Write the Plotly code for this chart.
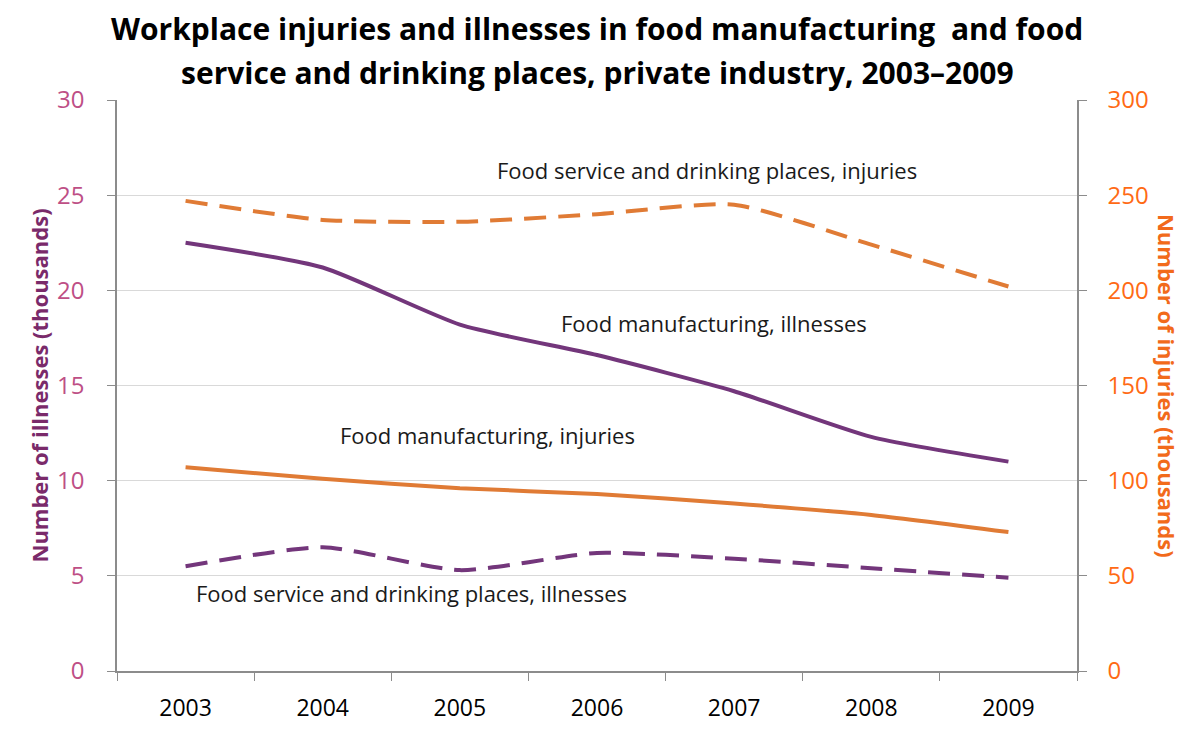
import plotly.graph_objects as go

years = ["2003", "2004", "2005", "2006", "2007", "2008", "2009"]

# Illnesses (thousands), left axis
mfg_illnesses = [22.5, 21.2, 18.2, 16.6, 14.7, 12.3, 11.0]
svc_illnesses = [5.5, 6.5, 5.3, 6.2, 5.9, 5.4, 4.9]

# Injuries (thousands), right axis
svc_injuries = [247, 237, 236, 240, 245, 224, 202]
mfg_injuries = [107, 101, 96, 93, 88, 82, 73]

left_ticks = [0, 5, 10, 15, 20, 25, 30]
right_ticks = [0, 50, 100, 150, 200, 250, 300]

title_lines = [
    "Workplace injuries and illnesses in food manufacturing  and food",
    "service and drinking places, private industry, 2003\u20132009",
]

PURPLE = "#73367B"
ORANGE = "#E07B35"
FONT = "'Open Sans', Lato, sans-serif"

fig = go.Figure()

fig.add_trace(go.Scatter(x=years, y=mfg_illnesses, mode="lines", yaxis="y",
                         line=dict(color=PURPLE, width=4, shape="spline", smoothing=0.6),
                         name="Food manufacturing, illnesses"))
fig.add_trace(go.Scatter(x=years, y=svc_illnesses, mode="lines", yaxis="y",
                         line=dict(color=PURPLE, width=4, dash="22px,12px", shape="spline", smoothing=0.6),
                         name="Food service and drinking places, illnesses"))
fig.add_trace(go.Scatter(x=years, y=svc_injuries, mode="lines", yaxis="y2",
                         line=dict(color=ORANGE, width=4, dash="22px,12px", shape="spline", smoothing=0.6),
                         name="Food service and drinking places, injuries"))
fig.add_trace(go.Scatter(x=years, y=mfg_injuries, mode="lines", yaxis="y2",
                         line=dict(color=ORANGE, width=4, shape="spline", smoothing=0.6),
                         name="Food manufacturing, injuries"))

labels = [
    ("Food service and drinking places, injuries", 3.8, 26.3),
    ("Food manufacturing, illnesses", 3.85, 18.3),
    ("Food manufacturing, injuries", 2.2, 12.4),
    ("Food service and drinking places, illnesses", 1.65, 4.1),
]
annotations = [
    dict(text=t, x=x, y=y, xref="x", yref="y", showarrow=False,
         font=dict(family=FONT, size=22, color="#1a1a1a"))
    for t, x, y in labels
]

# Two-line chart title
for line, ypos in zip(title_lines, [1.126, 1.049]):
    annotations.append(dict(text=line, xref="paper", yref="paper", x=0.5, y=ypos,
                            xanchor="center", yanchor="middle", showarrow=False,
                            font=dict(family=FONT, size=30, color="black", weight="bold")))

annotations.append(dict(text="Number of illnesses (thousands)", xref="paper", yref="paper",
                        x=-0.1, y=0.5, textangle=-90, showarrow=False,
                        font=dict(family=FONT, size=22, color="#7A2A6A", weight="bold")))
annotations.append(dict(text="Number of injuries (thousands)", xref="paper", yref="paper",
                        x=1.112, y=0.5, textangle=90, showarrow=False,
                        font=dict(family=FONT, size=22, color="#F26A1B", weight="bold")))

fig.update_layout(
    width=1200, height=730,
    margin=dict(l=117, r=123, t=100, b=59, autoexpand=False),
    paper_bgcolor="white", plot_bgcolor="white",
    showlegend=False,
    xaxis=dict(type="category", range=[-0.5, 6.5], showgrid=False, showline=True,
               linecolor="#8c8c8c", linewidth=1.5, ticks="outside", tickson="boundaries",
               ticklen=8, tickcolor="#8c8c8c", tickfont=dict(family=FONT, size=23, color="black"),
               ticklabelstandoff=16, zeroline=False, automargin=False),
    yaxis=dict(range=[0, 30], tickvals=left_ticks, showgrid=True, gridcolor="#d9d9d9",
               gridwidth=1, showline=True, linecolor="#8c8c8c", linewidth=1.5,
               ticks="outside", ticklen=8, tickcolor="#8c8c8c",
               tickfont=dict(family=FONT, size=24, color="#BE4F86"), ticklabelstandoff=18,
               zeroline=False, automargin=False),
    yaxis2=dict(range=[0, 300], tickvals=right_ticks, overlaying="y", side="right",
                showgrid=False, showline=True, linecolor="#8c8c8c", linewidth=1.5,
                ticks="outside", ticklen=8, tickcolor="#8c8c8c",
                tickfont=dict(family=FONT, size=24, color="#FF6A14"), ticklabelstandoff=16,
                zeroline=False, automargin=False),
    annotations=annotations,
)

fig.write_html("out.html")
